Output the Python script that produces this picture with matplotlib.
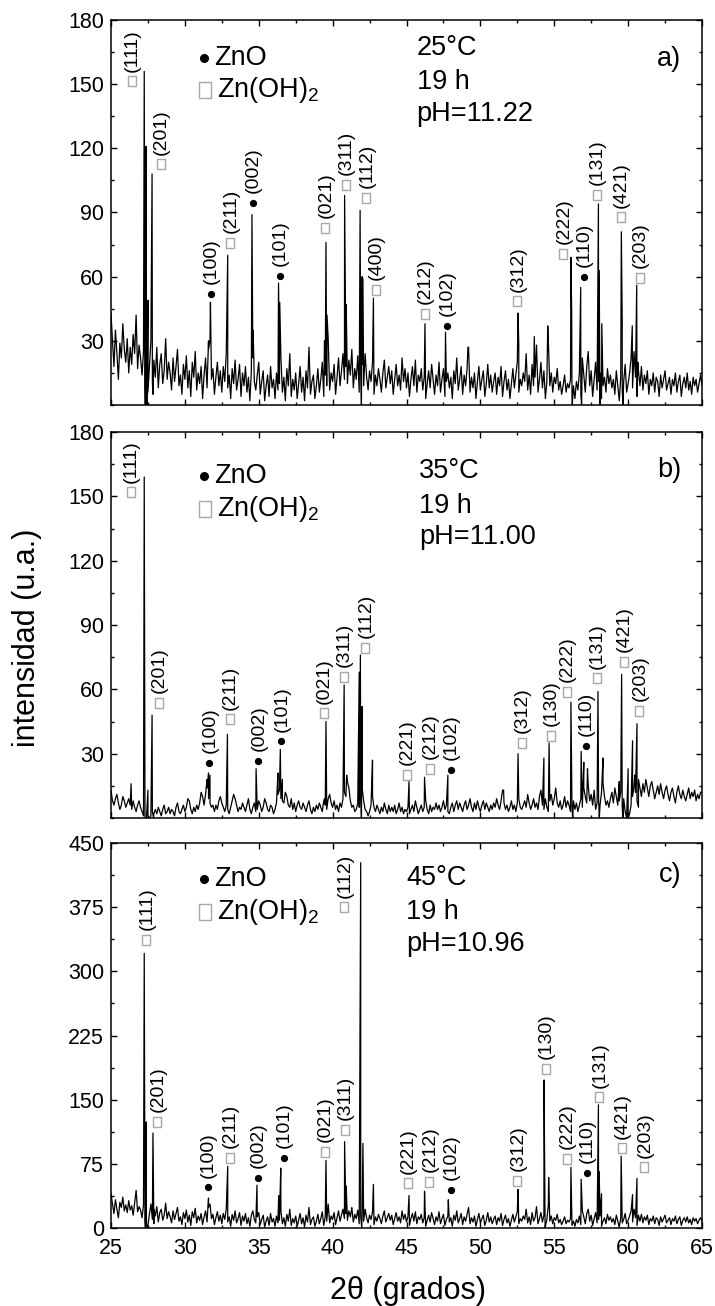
import numpy as np
import matplotlib
matplotlib.use("Agg")
import matplotlib.pyplot as plt
from matplotlib.path import Path
from matplotlib.ticker import MultipleLocator

plt.rcParams['font.family'] = ['Liberation Sans', 'DejaVu Sans']
plt.rcParams['mathtext.fontset'] = 'custom'
plt.rcParams['mathtext.rm'] = 'Liberation Sans'
plt.rcParams['mathtext.it'] = 'Liberation Sans:italic'

# 2theta scan grid (0.1 deg step), one row of background counts per degree
two_theta = np.arange(25.0, 65.001, 0.1)

bg_a = [43, 30, 18, 35, 24, 12, 29, 22, 38, 26,
        20, 31, 15, 27, 19, 33, 24, 42, 17, 28,
        22, 14, 25, 9, 3, 6, 18, 30, 11, 21,
        13, 27, 8, 19, 24, 10, 16, 31, 12, 20,
        15, 7, 22, 11, 18, 26, 9, 14, 5, 19,
        12, 23, 8, 16, 4, 20, 13, 25, 7, 15,
        10, 18, 3, 14, 22, 8, 26, 30, 12, 17,
        5, 13, 20, 9, 16, 6, 18, 11, 24, 8,
        14, 3, 17, 10, 21, 7, 12, 19, 4, 15,
        9, 18, 6, 13, 2, 16, 22, 11, 7, 14,
        20, 5, 11, 16, 2, 9, 14, 4, 18, 8,
        12, 3, 15, 7, 10, 22, 6, 13, 2, 17,
        9, 24, 4, 12, 7, 15, 3, 10, 18, 6,
        13, 2, 16, 8, 27, 5, 11, 14, 3, 9,
        17, 6, 12, 20, 4, 14, 9, 31, 7, 15,
        11, 19, 5, 13, 22, 9, 16, 24, 12, 18,
        10, 21, 14, 26, 8, 17, 12, 23, 6, 15,
        19, 9, 24, 13, 7, 16, 11, 20, 5, 14,
        9, 17, 12, 6, 15, 21, 8, 13, 18, 10,
        16, 5, 12, 19, 9, 14, 7, 22, 11, 17,
        8, 15, 4, 12, 18, 9, 21, 6, 14, 11,
        17, 7, 13, 3, 10, 16, 8, 19, 12, 5,
        14, 9, 20, 6, 12, 17, 4, 11, 15, 8,
        13, 3, 16, 10, 22, 7, 12, 18, 5, 14,
        9, 17, 27, 6, 13, 8, 15, 3, 11, 18,
        7, 12, 16, 4, 10, 19, 8, 14, 6, 11,
        15, 5, 13, 9, 18, 4, 11, 16, 7, 12,
        3, 10, 17, 8, 14, 20, 6, 12, 9, 15,
        11, 24, 7, 14, 5, 19, 9, 13, 28, 6,
        12, 20, 8, 16, 3, 11, 30, 9, 15, 6,
        13, 10, 17, 7, 11, 5, 9, 14, 6, 10,
        8, 12, 4, 9, 3, 11, 7, 15, 5, 22,
        14, 6, 18, 25, 9, 16, 4, 12, 20, 7,
        11, 15, 3, 9, 13, 6, 17, 10, 14, 8,
        12, 5, 16, 9, 2, 13, 7, 11, 19, 6,
        10, 15, 22, 8, 25, 13, 4, 16, 9, 18,
        7, 14, 10, 16, 5, 12, 9, 15, 6, 13,
        11, 4, 14, 8, 12, 16, 7, 10, 13, 5,
        12, 9, 15, 6, 11, 14, 4, 10, 13, 8,
        15, 7, 11, 5, 13, 9, 12, 6, 10, 14,
        9]

bg_b = [13, 8, 6, 9, 11, 7, 4, 6, 10, 8,
        5, 7, 9, 6, 4, 8, 5, 3, 6, 8,
        5, 3, 1, 0, 0, 0, 0, 1, 3, 2,
        4, 2, 5, 3, 1, 4, 6, 2, 3, 5,
        2, 4, 3, 1, 5, 7, 3, 2, 4, 6,
        3, 5, 9, 8, 4, 2, 5, 3, 6, 4,
        7, 12, 10, 6, 11, 14, 9, 7, 5, 6,
        3, 6, 4, 8, 10, 7, 5, 3, 6, 4,
        2, 5, 8, 11, 9, 6, 3, 5, 4, 7,
        5, 3, 6, 9, 4, 2, 5, 7, 3, 4,
        8, 6, 3, 5, 9, 7, 4, 3, 6, 5,
        2, 4, 7, 11, 13, 9, 8, 7, 12, 10,
        6, 5, 9, 4, 7, 3, 6, 8, 5, 4,
        7, 5, 3, 6, 8, 4, 2, 5, 3, 6,
        4, 7, 5, 3, 8, 6, 4, 9, 11, 7,
        5, 8, 4, 6, 3, 7, 5, 9, 12, 10,
        17, 14, 8, 5, 6, 3, 4, 7, 5, 9,
        14, 8, 4, 3, 1, 3, 6, 10, 5, 3,
        6, 4, 2, 5, 3, 7, 4, 2, 6, 3,
        5, 3, 6, 2, 4, 7, 3, 5, 2, 4,
        3, 5, 2, 4, 6, 3, 8, 5, 2, 4,
        6, 3, 5, 8, 4, 2, 6, 3, 5, 4,
        7, 4, 6, 3, 5, 8, 4, 6, 3, 2,
        5, 7, 3, 6, 8, 4, 7, 5, 3, 6,
        8, 4, 6, 9, 5, 3, 7, 4, 8, 5,
        3, 6, 8, 4, 7, 5, 3, 6, 4, 7,
        5, 9, 6, 4, 8, 13, 7, 4, 6, 3,
        5, 8, 4, 6, 3, 7, 9, 5, 4, 6,
        8, 5, 11, 7, 4, 6, 9, 5, 7, 4,
        10, 13, 6, 4, 9, 5, 3, 8, 11, 6,
        9, 14, 7, 5, 8, 4, 6, 10, 5, 8,
        6, 3, 5, 8, 4, 7, 3, 6, 9, 5,
        14, 10, 7, 15, 8, 11, 6, 13, 4, 7,
        9, 6, 12, 16, 10, 6, 8, 5, 9, 12,
        7, 14, 10, 6, 8, 12, 5, 9, 3, 0,
        0, 2, 6, 10, 15, 12, 8, 18, 14, 10,
        16, 12, 18, 14, 10, 15, 17, 13, 9, 12,
        15, 11, 16, 12, 9, 13, 15, 11, 8, 12,
        14, 10, 7, 12, 15, 11, 9, 13, 10, 8,
        11, 14, 9, 12, 10, 13, 8, 11, 9, 12,
        12]

bg_c = [40, 28, 17, 33, 22, 12, 30, 24, 36, 20,
        27, 18, 32, 21, 26, 15, 29, 44, 19, 25,
        21, 12, 27, 8, 4, 3, 16, 28, 10, 22,
        14, 25, 7, 18, 22, 9, 15, 29, 11, 19,
        13, 6, 20, 10, 17, 24, 8, 13, 4, 18,
        11, 21, 7, 15, 3, 19, 12, 23, 6, 14,
        9, 17, 4, 13, 20, 7, 24, 28, 11, 16,
        4, 12, 19, 8, 15, 5, 17, 10, 22, 7,
        13, 2, 16, 9, 20, 6, 11, 18, 3, 14,
        8, 17, 5, 12, 2, 15, 20, 10, 6, 13,
        18, 4, 10, 15, 1, 8, 13, 3, 17, 7,
        11, 2, 14, 6, 9, 20, 5, 12, 2, 16,
        8, 22, 3, 11, 6, 14, 2, 9, 17, 5,
        12, 1, 15, 7, 24, 4, 10, 13, 2, 8,
        16, 5, 11, 19, 3, 13, 8, 28, 6, 14,
        10, 18, 4, 12, 20, 8, 15, 22, 11, 17,
        9, 20, 13, 24, 7, 16, 11, 21, 5, 14,
        18, 8, 22, 12, 6, 15, 10, 19, 4, 13,
        8, 16, 11, 5, 14, 20, 7, 12, 17, 9,
        15, 4, 11, 18, 8, 13, 6, 20, 10, 16,
        7, 14, 3, 11, 17, 8, 19, 5, 13, 10,
        16, 6, 12, 2, 9, 15, 7, 18, 11, 4,
        13, 8, 19, 5, 11, 16, 3, 10, 14, 7,
        12, 2, 15, 9, 20, 6, 11, 17, 4, 13,
        8, 16, 24, 5, 12, 7, 14, 2, 10, 17,
        6, 11, 15, 3, 9, 18, 7, 13, 5, 10,
        14, 4, 12, 8, 17, 3, 10, 15, 6, 11,
        2, 9, 16, 7, 13, 19, 5, 11, 8, 14,
        10, 22, 6, 13, 4, 18, 8, 12, 25, 5,
        11, 18, 7, 15, 2, 10, 27, 8, 14, 5,
        12, 9, 16, 6, 10, 4, 8, 13, 5, 9,
        7, 11, 3, 8, 2, 10, 6, 14, 4, 20,
        13, 5, 17, 22, 8, 15, 3, 11, 18, 6,
        10, 14, 2, 8, 12, 5, 16, 9, 13, 7,
        11, 4, 15, 8, 1, 12, 6, 10, 17, 5,
        9, 14, 20, 7, 22, 12, 3, 15, 8, 16,
        6, 13, 9, 15, 4, 11, 8, 14, 5, 12,
        10, 3, 13, 7, 11, 15, 6, 9, 12, 4,
        11, 8, 14, 5, 10, 13, 3, 9, 12, 7,
        13, 6, 10, 4, 12, 8, 11, 5, 9, 12,
        8]

# reflections (position, counts), including the sharp dips beside them
peak_pos_a = [27.25, 27.32, 27.38, 27.45, 27.50, 27.78, 27.84, 31.60, 31.73,
              32.90, 34.54, 34.62, 36.34, 36.42, 39.45, 39.55, 39.62, 40.81,
              40.92, 41.86, 41.95, 42.00, 42.05, 42.76, 46.25, 47.64, 49.16,
              52.55, 52.60, 53.65, 54.56, 56.13, 56.18, 56.22, 56.79, 56.85,
              57.99, 58.04, 58.10, 58.22, 59.54, 59.60, 59.65, 60.28, 60.58,
              60.66]
peak_int_a = [156, 0, 121, 0, 49, 108, 5, 30, 48,
              70, 89, 35, 57, 48, 30, 76, 42, 98,
              47, 91, 0, 60, 59, 50, 38, 34, 27,
              43, 28, 32, 37, 69, 43, 0, 55, 0,
              94, 63, 0, 38, 81, 39, 0, 37, 56,
              20]

peak_pos_b = [26.36, 27.25, 27.35, 27.50, 27.78, 27.88, 31.50, 31.60, 31.70,
              32.88, 34.82, 36.30, 36.46, 36.60, 39.45, 39.55, 40.78, 40.95,
              41.80, 41.88, 41.95, 42.00, 42.70, 45.17, 46.22, 47.80, 51.57,
              52.55, 54.30, 54.65, 56.13, 56.25, 56.82, 57.00, 57.25, 57.96,
              58.05, 58.30, 59.40, 59.56, 59.65, 60.00, 60.30, 60.45, 60.60,
              60.70]
peak_int_b = [16, 159, 0, 13, 48, 0, 18, 21, 20,
              39, 23, 21, 32, 18, 9, 45, 62, 20,
              68, 76, 0, 52, 27, 17, 19, 20, 13,
              30, 28, 35, 54, 0, 31, 26, 23, 59,
              0, 28, 17, 67, 0, 23, 36, 20, 44,
              5]

peak_pos_c = [27.25, 27.33, 27.38, 27.45, 27.84, 27.90, 31.60, 32.90, 34.88,
              36.35, 36.49, 39.55, 40.81, 40.92, 41.90, 41.97, 42.05, 42.76,
              45.17, 46.22, 47.83, 52.55, 54.31, 54.38, 54.62, 56.13, 56.82,
              57.99, 58.04, 58.20, 59.53, 60.30, 60.60]
peak_int_c = [321, 0, 124, 0, 111, 5, 35, 72, 50,
              38, 70, 79, 101, 49, 427, 0, 99, 51,
              38, 43, 33, 45, 173, 0, 59, 71, 57,
              144, 66, 40, 84, 39, 58]

# indexed reflections: label, phase ('ZnO' dot / 'ZnOH' box), position, height
hkl_a = ['(111)', '(201)', '(100)', '(211)', '(002)', '(101)', '(021)', '(311)',
         '(112)', '(400)', '(212)', '(102)', '(312)', '(222)', '(110)', '(131)',
         '(421)', '(203)']
phase_a = ['ZnOH', 'ZnOH', 'ZnO', 'ZnOH', 'ZnO', 'ZnO', 'ZnOH', 'ZnOH',
           'ZnOH', 'ZnOH', 'ZnOH', 'ZnO', 'ZnOH', 'ZnOH', 'ZnO', 'ZnOH',
           'ZnOH', 'ZnOH']
mark_x_a = [26.42, 28.37, 31.76, 33.06, 34.60, 36.43, 39.49, 40.88, 42.27,
            42.92, 46.22, 47.73, 52.49, 55.61, 57.00, 57.86, 59.50, 60.80]
mark_y_a = [151.3, 112.5, 52.0, 75.9, 94.5, 60.4, 82.9, 103.0, 96.8,
            53.8, 42.7, 37.1, 48.4, 70.6, 60.0, 98.2, 87.7, 59.6]

hkl_b = ['(111)', '(201)', '(100)', '(211)', '(002)', '(101)', '(021)', '(311)',
         '(112)', '(221)', '(212)', '(102)', '(312)', '(130)', '(222)', '(110)',
         '(131)', '(421)', '(203)']
phase_b = ['ZnOH', 'ZnOH', 'ZnO', 'ZnOH', 'ZnO', 'ZnO', 'ZnOH', 'ZnOH',
           'ZnOH', 'ZnOH', 'ZnOH', 'ZnO', 'ZnOH', 'ZnOH', 'ZnOH', 'ZnO',
           'ZnOH', 'ZnOH', 'ZnOH']
mark_x_b = [26.33, 28.24, 31.64, 33.03, 34.98, 36.52, 39.39, 40.75, 42.20,
            45.00, 46.56, 47.98, 52.80, 54.78, 55.86, 57.12, 57.87, 59.72, 60.74]
mark_y_b = [151.9, 53.7, 25.7, 46.0, 26.5, 35.8, 48.8, 65.9, 79.4,
            20.2, 23.0, 22.6, 35.0, 38.2, 58.9, 33.5, 65.1, 72.9, 50.0]

hkl_c = ['(111)', '(201)', '(100)', '(211)', '(002)', '(101)', '(021)', '(311)',
         '(112)', '(221)', '(212)', '(102)', '(312)', '(130)', '(222)', '(110)',
         '(131)', '(421)', '(203)']
phase_c = phase_b
mark_x_c = [27.38, 28.12, 31.55, 33.03, 34.95, 36.71, 39.46, 40.81, 40.78,
            45.08, 46.53, 48.01, 52.49, 54.44, 55.83, 57.19, 58.05, 59.56, 61.08]
mark_y_c = [337.0, 124.0, 47.5, 81.8, 58.4, 81.8, 89.2, 115.0, 374.8,
            52.2, 54.1, 44.8, 55.3, 185.8, 80.6, 64.3, 152.7, 93.1, 70.9]

conditions_a = ['25°C', '19 h', 'pH=11.22']
conditions_b = ['35°C', '19 h', 'pH=11.00']
conditions_c = ['45°C', '19 h', 'pH=10.96']


def box_path(aspect):
    w = aspect / 2
    return Path([(-w, -0.5), (w, -0.5), (w, 0.5), (-w, 0.5), (-w, -0.5)],
                [Path.MOVETO, Path.LINETO, Path.LINETO, Path.LINETO,
                 Path.CLOSEPOLY])


BOX_SMALL = box_path(0.85)   # symbols next to the reflections
BOX_KEY = box_path(0.72)     # taller one in the key
BOX_GREY = '#a8a8a8'


def draw_marker(ax, x, y, phase, size_box, size_dot, box, transform=None):
    kw = {} if transform is None else {'transform': transform}
    if phase == 'ZnO':
        ax.plot([x], [y], marker='o', ms=size_dot, color='black', ls='none',
                clip_on=False, **kw)
    else:
        ax.plot([x], [y], marker=box, ms=size_box, mfc='white', mec=BOX_GREY,
                mew=1.0, ls='none', clip_on=False, **kw)


def panel(ax, bg, ppos, pint, hkl, phase, mx, my, cond, tag, ymax, ystep,
          cond_x, cond_y, tag_y, leg_y, show_x):
    x = np.concatenate([two_theta, ppos])
    y = np.concatenate([np.asarray(bg, float), np.asarray(pint, float)])
    order = np.argsort(x, kind='stable')
    ax.plot(x[order], y[order], color='black', lw=0.9)

    for lab, ph, px, py in zip(hkl, phase, mx, my):
        draw_marker(ax, px, py, ph, 7.5, 4.2, BOX_SMALL)
        ax.annotate(lab, (px, py), xytext=(0.5, 7), textcoords='offset points',
                    rotation=90, ha='center', va='bottom', fontsize=14)

    # symbol key
    draw_marker(ax, 0.158, leg_y[0], 'ZnO', 11.5, 5.5, BOX_KEY,
                transform=ax.transAxes)
    ax.text(0.175, leg_y[0], 'ZnO', transform=ax.transAxes, fontsize=19.5,
            va='center', ha='left')
    draw_marker(ax, 0.159, leg_y[1], 'ZnOH', 11.5, 5.5, BOX_KEY,
                transform=ax.transAxes)
    ax.text(0.180, leg_y[1], 'Zn(OH)$_2$', transform=ax.transAxes,
            fontsize=19.5, va='center', ha='left')

    for line, yy in zip(cond, cond_y):
        ax.text(cond_x, yy, line, transform=ax.transAxes, fontsize=19.5,
                va='center', ha='left')
    ax.text(0.965, tag_y, tag, transform=ax.transAxes, fontsize=19.5,
            va='center', ha='right')

    ax.set_xlim(25, 65)
    ax.set_ylim(0, ymax)
    ax.xaxis.set_major_locator(MultipleLocator(5))
    ax.xaxis.set_minor_locator(MultipleLocator(2.5))
    ticks = np.arange(0, ymax + 0.1, ystep)
    if ystep == 30:
        ticks = ticks[1:]
    ax.set_yticks(ticks)
    ax.yaxis.set_minor_locator(MultipleLocator(ystep / 2))
    ax.tick_params(which='both', direction='in', top=True, right=True,
                   labelsize=15.5, width=1.0)
    ax.tick_params(which='major', length=4.5, pad=5)
    ax.tick_params(which='minor', length=2.5)
    ax.tick_params(axis='x', which='major', pad=7)
    if not show_x:
        ax.tick_params(axis='x', labelbottom=False)
    for sp in ax.spines.values():
        sp.set_linewidth(1.1)


fig = plt.figure(figsize=(7.15, 13.06), dpi=100)
left, width = 111 / 715, 591 / 715
ax_a = fig.add_axes([left, 1 - 405 / 1306, width, 385 / 1306])
ax_b = fig.add_axes([left, 1 - 818 / 1306, width, 386 / 1306])
ax_c = fig.add_axes([left, 1 - 1228 / 1306, width, 385 / 1306])

panel(ax_a, bg_a, peak_pos_a, peak_int_a, hkl_a, phase_a, mark_x_a, mark_y_a,
      conditions_a, 'a)', 180, 30, 0.517, [0.926, 0.840, 0.756], 0.898,
      [0.901, 0.818], False)
panel(ax_b, bg_b, peak_pos_b, peak_int_b, hkl_b, phase_b, mark_x_b, mark_y_b,
      conditions_b, 'b)', 180, 30, 0.521, [0.898, 0.809, 0.729], 0.902,
      [0.885, 0.800], False)
panel(ax_c, bg_c, peak_pos_c, peak_int_c, hkl_c, phase_c, mark_x_c, mark_y_c,
      conditions_c, 'c)', 450, 75, 0.500, [0.908, 0.820, 0.738], 0.917,
      [0.907, 0.820], True)

fig.text(27.5 / 715, 1 - 638 / 1306, 'intensidad (u.a.)', rotation=90,
         ha='center', va='center', fontsize=22)
fig.text(408 / 715, 1 - 1291 / 1306, '2θ (grados)', ha='center', va='center',
         fontsize=22)

fig.savefig('out.png', dpi=100)
plt.close(fig)
